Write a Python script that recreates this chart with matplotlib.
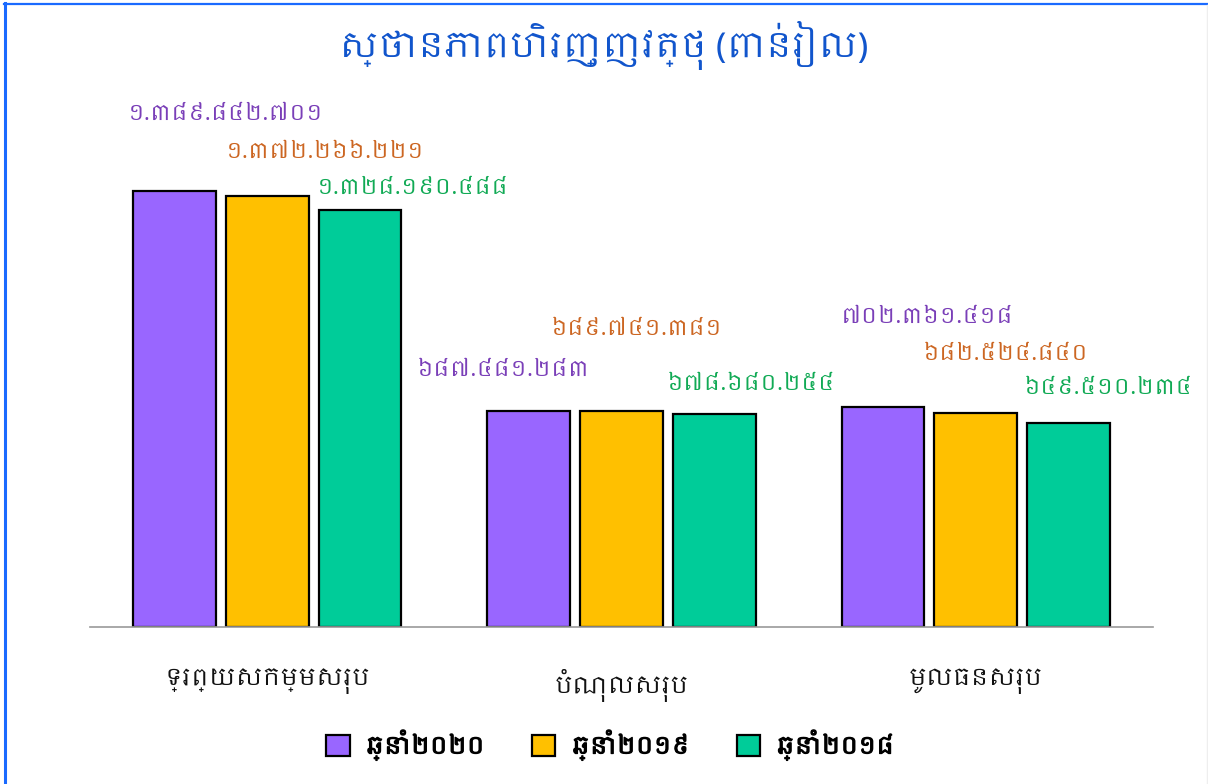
import matplotlib
matplotlib.use("Agg")
import matplotlib.pyplot as plt
import matplotlib.patheffects as pe
from matplotlib import font_manager
import numpy as np

# ---------------- data ----------------
categories = ["ទ្រព្យសកម្មសរុប", "បំណុលសរុប", "មូលធនសរុប"]
series_names = ["ឆ្នាំ២០២០", "ឆ្នាំ២០១៩", "ឆ្នាំ២០១៨"]
values_2020 = [1389842701, 687481283, 702361418]
values_2019 = [1372266221, 689741381, 682524840]
values_2018 = [1328190488, 678680254, 649510234]
title_text = "ស្ថានភាពហិរញ្ញវត្ថុ (ពាន់រៀល)"

# ---------------- fonts ----------------
khmer = [f.name for f in font_manager.fontManager.ttflist if "khmer" in f.name.lower()]
families = []
if khmer:
    families.append(sorted(set(khmer))[0])
families += ["Noto Sans", "DejaVu Sans"]
plt.rcParams["font.family"] = families

KH_DIGITS = "០១២៣៤៥៦៧៨៩"
def kh_num(v):
    s = f"{v:,}".replace(",", ".")
    return "".join(KH_DIGITS[int(c)] if c.isdigit() else c for c in s)

W, H = 1208, 784
fig = plt.figure(figsize=(W / 100, H / 100), dpi=100)
fig.patch.set_facecolor("white")

ax = fig.add_axes([90 / W, (H - 627) / H, (1153 - 90) / W, (627 - 125) / H])
ymax = 1.6e9
ax.set_ylim(0, ymax)
ax.set_xlim(-0.5, 2.5)

bar_colors = ["#9966FF", "#FFC000", "#00CC99"]
label_colors = ["#7A3FB8", "#CC6622", "#11AA55"]
all_vals = [values_2020, values_2019, values_2018]
width = 83 / 355
step = 93 / 355
x = np.arange(len(categories))

for i, (vals, c) in enumerate(zip(all_vals, bar_colors)):
    xs = x + (i - 1) * step
    ax.bar(xs, vals, width=width, color=c, edgecolor="black", linewidth=1.6,
           label=series_names[i], zorder=3)

# label placement offsets in pixels (dx, dy) from the top-centre of each bar
label_offsets = [
    [(51, 76), (58, 44), (53, 22)],
    [(-25, 41), (15, 81), (37, 30)],
    [(44, 89), (30, 58), (40, 35)],
]

for g in range(len(categories)):
    for i, vals in enumerate(all_vals):
        xb = g + (i - 1) * step
        dx, dy = label_offsets[g][i]
        ax.annotate(kh_num(vals[g]), xy=(xb, vals[g]),
                    xytext=(dx, dy), textcoords="offset pixels",
                    ha="center", va="center", fontsize=16, color=label_colors[i])

for s in ["top", "right", "left"]:
    ax.spines[s].set_visible(False)
ax.spines["bottom"].set_color("#999999")
ax.spines["bottom"].set_linewidth(1.2)
ax.spines["bottom"].set_zorder(4)
ax.set_yticks([])
ax.set_xticks(x)
ax.set_xticklabels(categories, fontsize=17, color="#111111")
ax.tick_params(axis="x", length=0, pad=30)

fig.text(0.5, 1 - 45 / H, title_text, ha="center", va="center",
         fontsize=25, color="#1155CC")

leg = fig.legend(loc="center", bbox_to_anchor=(0.505, 1 - 745 / H), ncol=3,
                 frameon=False, fontsize=17, handlelength=1.0, handleheight=1.0,
                 columnspacing=2.0, handletextpad=0.7)
for t in leg.get_texts():
    t.set_fontweight("bold")
    t.set_path_effects([pe.withStroke(linewidth=0.9, foreground="black")])

# blue frame lines (left and top)
fig.add_artist(plt.Line2D([5 / W, 5 / W], [0, 1 - 3 / H], color="#1A6AFF",
                          linewidth=2.2, transform=fig.transFigure))
fig.add_artist(plt.Line2D([4 / W, 1], [1 - 3.5 / H, 1 - 3.5 / H], color="#1A6AFF",
                          linewidth=1.6, transform=fig.transFigure))
fig.add_artist(plt.Line2D([1 - 1 / W, 1 - 1 / W], [0, 1 - 5 / H], color="#EEEEEE",
                          linewidth=1.0, transform=fig.transFigure))

fig.savefig("out.png", dpi=100)
